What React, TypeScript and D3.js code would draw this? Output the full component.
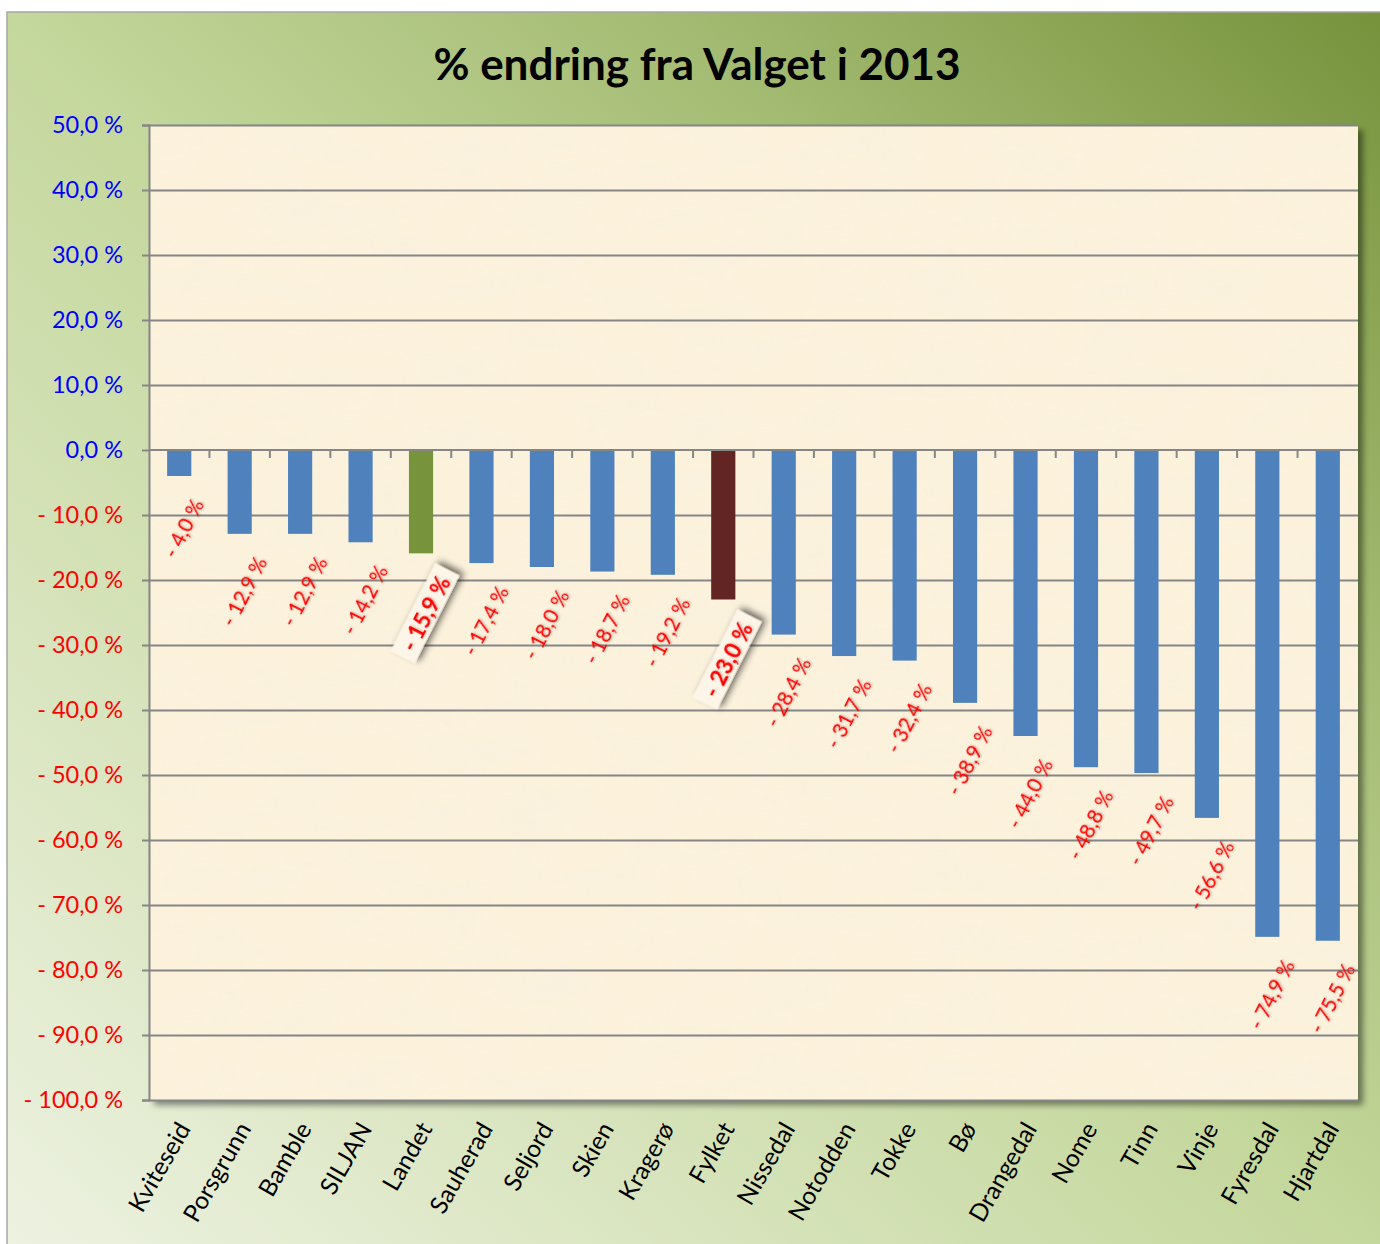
import React, { useEffect, useRef } from "react";
import * as d3 from "d3";

const categories = ["Kviteseid", "Porsgrunn", "Bamble", "SILJAN", "Landet", "Sauherad", "Seljord", "Skien", "Kragerø", "Fylket", "Nissedal", "Notodden", "Tokke", "Bø", "Drangedal", "Nome", "Tinn", "Vinje", "Fyresdal", "Hjartdal"];
const values = [-4.0, -12.9, -12.9, -14.2, -15.9, -17.4, -18.0, -18.7, -19.2, -23.0, -28.4, -31.7, -32.4, -38.9, -44.0, -48.8, -49.7, -56.6, -74.9, -75.5];
const highlighted = ["Landet", "Fylket"];
const yTicks = [50, 40, 30, 20, 10, 0, -10, -20, -30, -40, -50, -60, -70, -80, -90, -100];
const title = "% endring fra Valget i 2013";

const W = 1380, H = 1244;
const M = { left: 149, right: 1358, top: 125, bottom: 1100 };
const FONT = "Lato, 'Open Sans', sans-serif";

const fmt = (v: number) => (v < 0 ? "- " : "") + Math.abs(v).toFixed(1).replace(".", ",") + " %";
const barColor = (c: string) => (c === "Landet" ? "#77933c" : c === "Fylket" ? "#632523" : "#4f81bd");

export default function App() {
  const ref = useRef<SVGSVGElement>(null);
  useEffect(() => {
    const svg = d3.select(ref.current);
    svg.selectAll("*").remove();
    const defs = svg.append("defs");

    const bg = defs.append("linearGradient").attr("id", "bg").attr("x1", 0).attr("y1", 1).attr("x2", 1).attr("y2", 0);
    [[0, "#edf2e1"], [0.5, "#c4d79c"], [0.73, "#a5bc74"], [1, "#76923b"]].forEach(([o, c]) =>
      bg.append("stop").attr("offset", o as number).attr("stop-color", c as string));

    const paper = defs.append("filter").attr("id", "paper").attr("x", 0).attr("y", 0).attr("width", 1).attr("height", 1);
    paper.append("feTurbulence").attr("type", "fractalNoise").attr("baseFrequency", "0.012 0.03").attr("numOctaves", 3).attr("seed", 4).attr("result", "n");
    paper.append("feColorMatrix").attr("in", "n").attr("type", "matrix")
      .attr("values", "0 0 0 0 0.93  0 0 0 0 0.87  0 0 0 0 0.74  0 0 0 -1.3 0.75").attr("result", "c");
    paper.append("feComposite").attr("in", "c").attr("in2", "SourceGraphic").attr("operator", "in");

    const sh = defs.append("filter").attr("id", "shadow").attr("x", "-5%").attr("y", "-5%").attr("width", "115%").attr("height", "115%");
    sh.append("feDropShadow").attr("dx", 5).attr("dy", 5).attr("stdDeviation", 3).attr("flood-color", "#000").attr("flood-opacity", 0.45);

    const bsh = defs.append("filter").attr("id", "boxshadow").attr("x", "-30%").attr("y", "-30%").attr("width", "180%").attr("height", "180%");
    bsh.append("feDropShadow").attr("dx", 4).attr("dy", 3).attr("stdDeviation", 3.5).attr("flood-color", "#000").attr("flood-opacity", 0.6);

    const tsh = defs.append("filter").attr("id", "tshadow").attr("x", "-10%").attr("y", "-30%").attr("width", "130%").attr("height", "160%");
    tsh.append("feDropShadow").attr("dx", 1).attr("dy", 1).attr("stdDeviation", 1).attr("flood-color", "#000").attr("flood-opacity", 0.25);

    // chart area
    svg.append("rect").attr("x", 7).attr("y", 12).attr("width", W - 7 + 2).attr("height", H - 12 + 2)
      .attr("fill", "url(#bg)").attr("stroke", "#a6a6a6").attr("stroke-width", 1.5);

    svg.append("text").attr("x", 697).attr("y", 80).attr("text-anchor", "middle")
      .attr("font-family", FONT).attr("font-weight", 700).attr("font-size", 44).attr("fill", "#000").text(title);

    const x = d3.scaleBand<string>().domain(categories).range([M.left, M.right]).paddingInner(0.6).paddingOuter(0.3);
    const y = d3.scaleLinear().domain([-100, 50]).range([M.bottom, M.top]);

    // plot area
    svg.append("rect").attr("x", M.left).attr("y", M.top).attr("width", M.right - M.left).attr("height", M.bottom - M.top)
      .attr("fill", "#fcf2dc").attr("filter", "url(#shadow)");
    svg.append("rect").attr("x", M.left).attr("y", M.top).attr("width", M.right - M.left).attr("height", M.bottom - M.top)
      .attr("fill", "#fff").attr("filter", "url(#paper)").attr("opacity", 0.9);

    // gridlines + y axis
    const yAxis = d3.axisLeft(y).tickValues(yTicks).tickSize(7).tickPadding(19).tickFormat((d) => fmt(+d));
    const gy = svg.append("g").attr("transform", `translate(${M.left},0)`).call(yAxis);
    gy.select(".domain").attr("stroke", "#868686").attr("stroke-width", 2);
    gy.selectAll(".tick line").attr("stroke", "#868686").attr("stroke-width", 2);
    gy.selectAll(".tick text").attr("font-family", FONT).attr("font-size", 23.5)
      .attr("fill", (d: any) => (d >= 0 ? "#0000ff" : "#ff0000"));
    gy.selectAll(".tick").append("line").attr("x1", 0).attr("x2", M.right - M.left)
      .attr("stroke", (d: any) => (d === 0 ? "none" : "#868686")).attr("stroke-width", 2);

    // bars
    svg.append("g").selectAll("rect").data(categories).join("rect")
      .attr("x", (c) => x(c)!).attr("width", x.bandwidth())
      .attr("y", y(0)).attr("height", (c, i) => y(values[i]) - y(0))
      .attr("fill", (c) => barColor(c));

    // zero axis with ticks
    const step = x.step();
    const gx = svg.append("g");
    gx.append("line").attr("x1", M.left).attr("x2", M.right).attr("y1", y(0)).attr("y2", y(0)).attr("stroke", "#868686").attr("stroke-width", 2);
    gx.selectAll("line.t").data(categories.slice(1)).join("line").attr("class", "t")
      .attr("x1", (c) => x(c)! - (step - x.bandwidth()) / 2).attr("x2", (c) => x(c)! - (step - x.bandwidth()) / 2)
      .attr("y1", y(0)).attr("y2", y(0) + 8).attr("stroke", "#868686").attr("stroke-width", 2);

    // data labels
    const ang = -63;
    const rad = (ang * Math.PI) / 180;
    const lg = svg.append("g");
    categories.forEach((c, i) => {
      const v = values[i];
      const bold = highlighted.includes(c);
      const cx = x(c)! + x.bandwidth() / 2 + 4;
      const g = lg.append("g");
      const t = g.append("text").attr("text-anchor", "middle").attr("dominant-baseline", "central")
        .attr("font-family", FONT).attr("font-size", bold ? 22 : 20.5).attr("font-weight", bold ? 700 : 400)
        .attr("fill", "#ff0000").attr("filter", "url(#tshadow)").text(fmt(v));
      const L = (t.node() as SVGTextElement).getComputedTextLength();
      const h = 14;
      const bh = L * Math.abs(Math.sin(rad)) + h * Math.abs(Math.cos(rad));
      const cy = y(v) + 21 + bh / 2;
      g.attr("transform", `translate(${cx},${cy}) rotate(${ang})`);
      if (bold) {
        g.insert("rect", "text").attr("x", -L / 2 - 9).attr("y", -13.5).attr("width", L + 18).attr("height", 27)
          .attr("fill", "#fdf6e8").attr("filter", "url(#boxshadow)");
      }
    });

    // category labels
    svg.append("g").selectAll("text").data(categories).join("text")
      .attr("transform", (c) => `translate(${x(c)! + x.bandwidth() / 2 + 4},${M.bottom + 24}) rotate(-60)`)
      .attr("text-anchor", "end").attr("dominant-baseline", "central")
      .attr("font-family", FONT).attr("font-size", 24.5).attr("fill", "#000").text((c) => c);
  }, []);
  return (
    <svg ref={ref} width={W} height={H} style={{ position: "absolute", left: 0, top: 0, display: "block", background: "#fff" }} />
  );
}
